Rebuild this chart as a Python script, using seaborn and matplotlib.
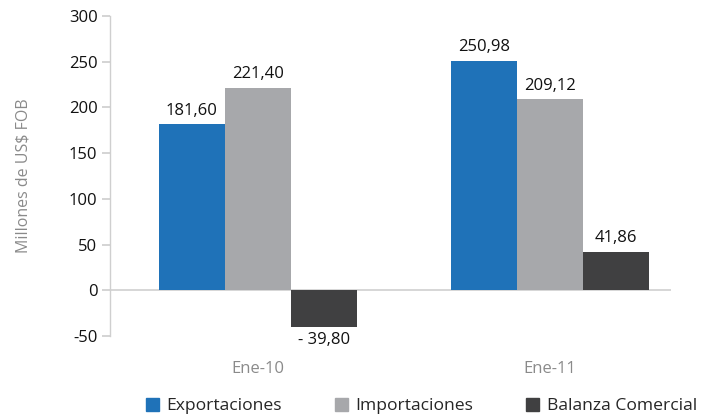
import matplotlib
matplotlib.use("Agg")
import matplotlib.pyplot as plt
import seaborn as sns
import pandas as pd

# datos
periodos = ["Ene-10", "Ene-11"]
series = ["Exportaciones", "Importaciones", "Balanza Comercial"]
exportaciones = [181.60, 250.98]
importaciones = [221.40, 209.12]
balanza = [-39.80, 41.86]
colores = ["#1f72b8", "#a7a8ab", "#404041"]

sns.set_theme(style="white")
plt.rcParams['font.family'] = ['Open Sans', 'DejaVu Sans']
plt.rcParams['axes.unicode_minus'] = False

df = pd.DataFrame({
    "periodo": periodos * 3,
    "serie": [s for s in series for _ in periodos],
    "valor": exportaciones + importaciones + balanza,
})

fig = plt.figure(figsize=(7.07, 4.17), dpi=100)
ax = fig.add_axes([0.1556, 0.1942, 0.949 - 0.1556, 0.9616 - 0.1942])

sns.barplot(data=df, x="periodo", y="valor", hue="serie", hue_order=series,
            order=periodos, palette=colores, width=0.68, saturation=1,
            errorbar=None, ax=ax, legend=False, linewidth=0)

ax.set_ylim(-50, 300)
ax.set_xlim(-0.507, 1.414)
ax.set_yticks(range(-50, 301, 50))
ax.axhline(0, color="#cfcfcf", lw=1.2, zorder=0)

for s in ["top", "right", "bottom"]:
    ax.spines[s].set_visible(False)
ax.spines["left"].set_color("#cfcfcf")
ax.spines["left"].set_linewidth(1.0)
ax.tick_params(axis="y", left=True, length=6, color="#cfcfcf", labelsize=12, labelcolor="#111111", pad=3)
ax.tick_params(axis="x", bottom=False, labelsize=12, labelcolor="#8a8a8a", pad=12)
ax.set_xlabel("")
ax.set_ylabel("Millones de US$ FOB", color="#8a8a8a", fontsize=11.5, labelpad=27)

# etiquetas de valor
for cont in ax.containers:
    for bar in cont:
        v = bar.get_height()
        x = bar.get_x() + bar.get_width() / 2
        if v >= 0:
            txt = f"{v:.2f}".replace(".", ",")
            ax.annotate(txt, (x, v), xytext=(0, 4), textcoords="offset points",
                        ha="center", va="bottom", fontsize=12, color="#111111")
        else:
            txt = "- " + f"{abs(v):.2f}".replace(".", ",")
            ax.annotate(txt, (x, v), xytext=(0, -4), textcoords="offset points",
                        ha="center", va="top", fontsize=12, color="#111111")

handles = [plt.Rectangle((0, 0), 1, 1, color=c) for c in colores]
fig.legend(handles, series, loc="center left", bbox_to_anchor=(0.206, 1 - 406 / 417),
           ncol=3, frameon=False, fontsize=12.6, handlelength=0.75, handleheight=0.75,
           handletextpad=0.45, columnspacing=3.0, borderpad=0, borderaxespad=0)

fig.savefig("out.png", dpi=100)
